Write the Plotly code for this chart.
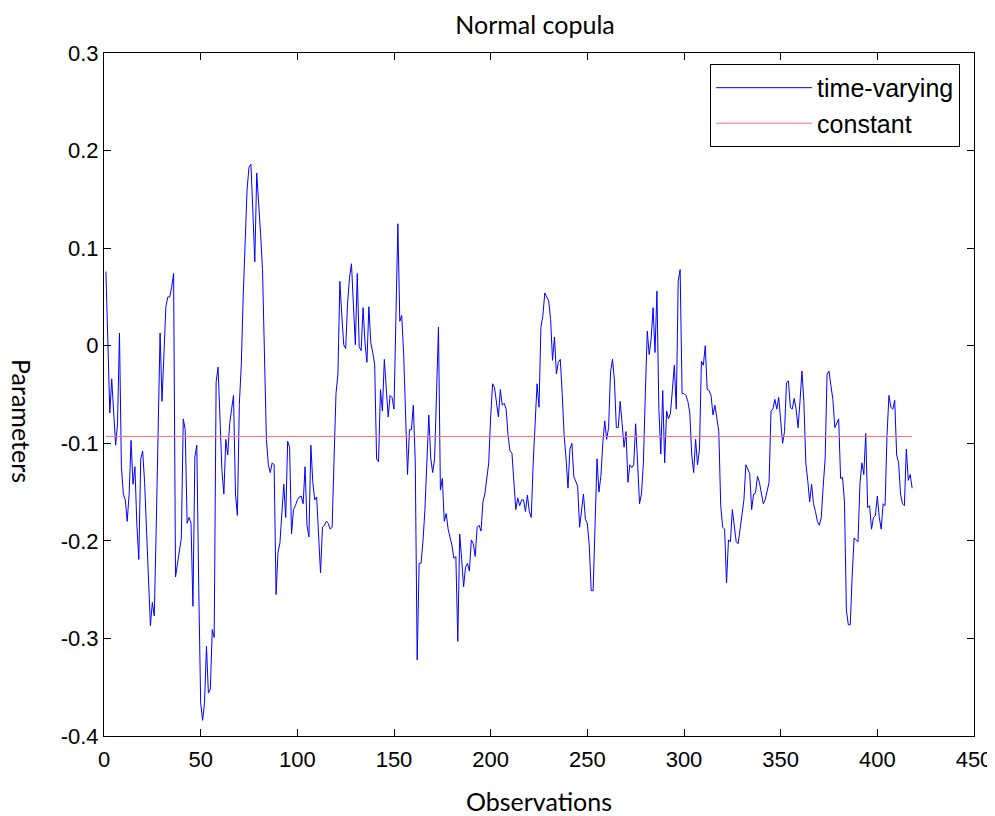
import plotly.graph_objects as go

# Time-varying Normal copula parameter
time_varying = [
    0.076, -0.009, -0.069, -0.034, -0.073, -0.102, -0.08, 0.013, -0.124, -0.152,
    -0.158, -0.18, -0.152, -0.097, -0.142, -0.124, -0.184, -0.219, -0.116, -0.108,
    -0.14, -0.188, -0.231, -0.287, -0.263, -0.277, -0.188, -0.086, 0.013, -0.057,
    -0.009, 0.04, 0.05, 0.05, 0.06, 0.074,
    -0.237, -0.225, -0.21, -0.197, -0.075, -0.086, -0.182, -0.176, -0.182, -0.267,
    -0.114, -0.102, -0.247, -0.366, -0.384, -0.366, -0.308, -0.356, -0.352, -0.291,
    -0.299, -0.037, -0.022, -0.084, -0.128, -0.152, -0.096, -0.112, -0.08, -0.065,
    -0.051, -0.152, -0.174,
    -0.06, -0.02, 0.05, 0.11, 0.16, 0.183, 0.186, 0.138, 0.086, 0.177,
    0.149, 0.114, 0.078, -0.009,
    -0.096, -0.122, -0.13, -0.12, -0.122, -0.255, -0.212, -0.202, -0.168, -0.142,
    -0.176, -0.098, -0.104, -0.193, -0.168, -0.164, -0.158, -0.155, -0.154, -0.162,
    -0.124, -0.184, -0.196, -0.102, -0.14, -0.158, -0.155,
    -0.191, -0.233, -0.186, -0.184, -0.18, -0.182, -0.188, -0.186, -0.116, -0.049,
    -0.029, 0.066, 0.031, 0.001, -0.003, 0.044, 0.07, 0.084, 0.042, 0.001,
    0.074, -0.001, -0.005, 0.039, 0.003, -0.017, 0.04, 0.003, -0.007, -0.019,
    -0.116, -0.119, -0.045, -0.067, -0.014, -0.041, -0.073, -0.051, -0.053, -0.065,
    0.031, 0.125, 0.025, 0.031, -0.009, -0.08, -0.132, -0.086, -0.086, -0.061,
    -0.12, -0.322, -0.223, -0.223, -0.2, -0.168, -0.108, -0.071, -0.115, -0.13,
    -0.116, -0.049, 0.019, -0.148, -0.136, -0.18, -0.172, -0.188, -0.196, -0.205,
    -0.218, -0.216, -0.303,
    -0.193, -0.219, -0.247, -0.227, -0.223, -0.231, -0.199, -0.203, -0.216, -0.186,
    -0.184, -0.19,
    -0.16, -0.152, -0.135, -0.12, -0.073, -0.039, -0.043, -0.061, -0.073, -0.045,
    -0.061, -0.059, -0.065, -0.092, -0.108, -0.11, -0.14, -0.168, -0.156, -0.164,
    -0.158, -0.158, -0.17,
    -0.153, -0.17, -0.176, -0.12, -0.073, -0.039, -0.063, 0.019, 0.031, 0.054,
    0.05, 0.046, 0.027, -0.015, 0.009, -0.029, -0.017, -0.014, -0.049, -0.092,
    -0.116, -0.146, -0.106, -0.1, -0.134, -0.14, -0.144, -0.186, -0.168, -0.152,
    -0.178, -0.182, -0.205, -0.251, -0.251, -0.184, -0.116,
    -0.15, -0.134, -0.1, -0.077, -0.096, -0.084, -0.027, -0.014, -0.035, -0.084,
    -0.084, -0.057, -0.08, -0.104, -0.088, -0.14, -0.122, -0.125, -0.122, -0.08,
    -0.12, -0.162, -0.152, -0.12, -0.049, 0.015, -0.009, 0.007, 0.039, -0.007,
    0.056, -0.065, -0.111, -0.046, -0.12, -0.067,
    -0.075, -0.069, -0.045, -0.02, -0.065, 0.066, 0.078, -0.049, -0.049, -0.051,
    -0.057, -0.069, -0.112, -0.13, -0.096, -0.122, -0.106, -0.016, -0.02, 0.0,
    -0.045, -0.046, -0.051, -0.071, -0.061, -0.075, -0.088, -0.164, -0.186, -0.188,
    -0.243, -0.199, -0.201, -0.168, -0.188, -0.201,
    -0.203, -0.188, -0.168, -0.158, -0.122, -0.126, -0.131, -0.168, -0.152, -0.151,
    -0.134, -0.14, -0.15, -0.162, -0.158, -0.148, -0.14, -0.067, -0.065, -0.055,
    -0.065, -0.053, -0.079, -0.1, -0.088, -0.038, -0.036, -0.063, -0.065, -0.054,
    -0.065, -0.084, -0.057, -0.026, -0.057, -0.12, -0.138,
    -0.16, -0.142, -0.162, -0.17, -0.18, -0.184, -0.176, -0.144, -0.116, -0.029,
    -0.026, -0.041, -0.055, -0.084, -0.079, -0.075, -0.136, -0.135, -0.16, -0.271,
    -0.286, -0.286, -0.235, -0.197, -0.199, -0.201, -0.142, -0.12, -0.132, -0.09,
    -0.166, -0.164, -0.188, -0.176, -0.174,
    -0.154, -0.176, -0.188, -0.162, -0.164, -0.092, -0.051, -0.063, -0.065, -0.056,
    -0.112, -0.12, -0.152, -0.162, -0.164, -0.106, -0.138, -0.132, -0.146,
]
constant_value = -0.093

observations = list(range(1, len(time_varying) + 1))
constant = [constant_value] * len(time_varying)

x_tickvals = [0, 50, 100, 150, 200, 250, 300, 350, 400, 450]
x_ticktext = ["0", "50", "100", "150", "200", "250", "300", "350", "400", "450"]
y_tickvals = [-0.4, -0.3, -0.2, -0.1, 0, 0.1, 0.2, 0.3]
y_ticktext = ["-0.4", "-0.3", "-0.2", "-0.1", "0", "0.1", "0.2", "0.3"]

fig = go.Figure()
fig.add_trace(go.Scatter(x=observations, y=time_varying, mode="lines",
                         name="time-varying", line=dict(color="#0000FF", width=1)))
fig.add_trace(go.Scatter(x=observations, y=constant, mode="lines",
                         name="constant", line=dict(color="#FF7070", width=1)))

tick_font = dict(family="Liberation Sans, Arial", size=22, color="black")
label_font = dict(family="Lato, Liberation Sans", size=25, color="black")

# the page has an 8px body margin, so the figure is sized to fit the window
W, H = 987, 808
fig.update_layout(
    width=W, height=H,
    paper_bgcolor="white", plot_bgcolor="white",
    margin=dict(l=96, r=21, t=45, b=80, autoexpand=False),
    title=dict(text="Normal copula", x=527 / W, xanchor="center",
               y=1 - 17 / H, yanchor="middle", font=label_font),
    showlegend=True,
    legend=dict(x=0.984, xanchor="right", y=0.984, yanchor="top",
                bgcolor="white", bordercolor="black", borderwidth=1,
                font=dict(family="Liberation Sans, Arial", size=25, color="black"),
                entrywidth=270, itemwidth=96, tracegroupgap=6),
    xaxis=dict(range=[0, 450], tickvals=x_tickvals, ticktext=x_ticktext,
               showgrid=False, zeroline=False, showline=True, linecolor="black",
               linewidth=1, mirror="allticks", ticks="inside", ticklen=7,
               tickcolor="black", tickfont=tick_font, automargin=False,
               ticklabelstandoff=4,
               title=dict(text="Observations", font=label_font, standoff=24)),
    yaxis=dict(range=[-0.4, 0.3], tickvals=y_tickvals, ticktext=y_ticktext,
               showgrid=False, zeroline=False, showline=True, linecolor="black",
               linewidth=1, mirror="allticks", ticks="inside", ticklen=7,
               tickcolor="black", tickfont=tick_font, automargin=False),
    annotations=[dict(text="Parameters", textangle=90, xref="paper", yref="paper",
                      x=0, y=(683 - 368) / 683, xanchor="center", yanchor="middle",
                      xshift=-82, showarrow=False, font=label_font)],
)

fig.write_html("out.html")
